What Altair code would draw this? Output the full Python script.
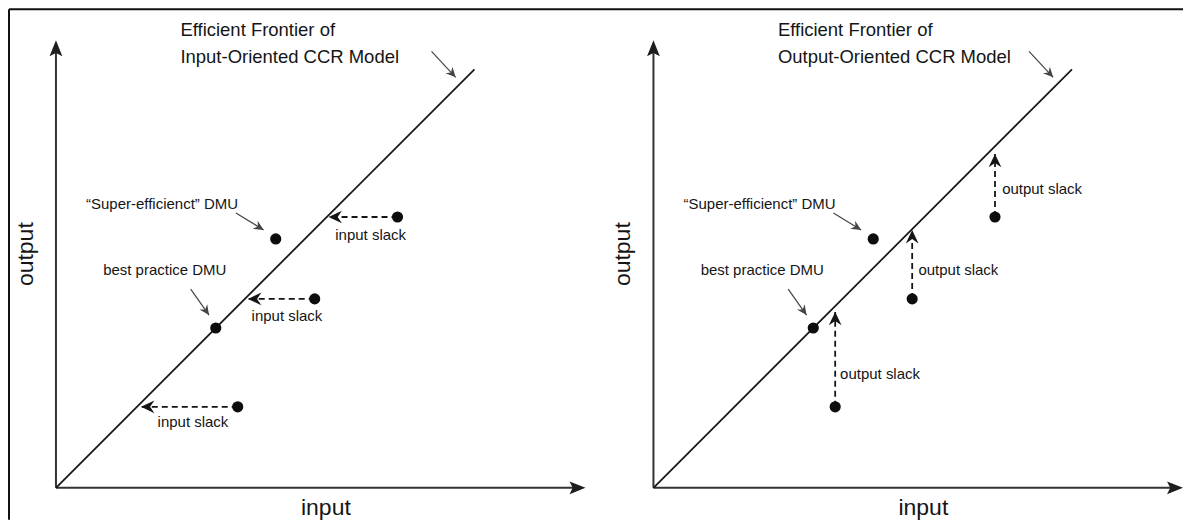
import math
import altair as alt
import pandas as pd

# ---------------- data (plot units: origin at the axes' corner) ----------------
X_MAX = 11.83
Y_MAX = 10.0
PANEL_W = 530
PANEL_H = 448

frontier_input = [0.0, 9.35]
frontier_output = [0.0, 9.35]

# DMUs: super-efficient, best practice, three inefficient ones
dmu_input = [4.91, 3.57, 7.63, 5.78, 4.06]
dmu_output = [5.56, 3.57, 6.05, 4.22, 1.81]

# inefficient DMUs and where their slack arrows end
slack_input = [7.63, 5.78, 4.06]
slack_output = [6.05, 4.22, 1.81]
input_target = [6.09, 4.29, 1.90]    # input-oriented: input reduced
output_target = [7.46, 5.76, 3.93]   # output-oriented: output raised

in_label_x = [7.03, 5.16, 3.06]
in_label_y = [5.65, 3.84, 1.47]
out_label_x = [7.79, 5.92, 4.17]
out_label_y = [6.68, 4.87, 2.54]

note_text = ["\u201cSuper-efficienct\u201d DMU", "best practice DMU"]
note_x = [2.37, 2.43]
note_y = [6.35, 4.86]

pointer_x1 = [4.02, 3.01, 8.39]
pointer_y1 = [6.14, 4.44, 9.75]
pointer_x2 = [4.64, 3.42, 8.93]
pointer_y2 = [5.76, 3.86, 9.17]

title_in = ["Efficient Frontier of", "Input-Oriented CCR Model"]
title_out = ["Efficient Frontier of", "Output-Oriented CCR Model"]
title_x = 2.78
title_y = [10.23, 9.63]

x_title = "input"
y_title = "output"
x_title_pos = (6.03, -0.45)
y_title_pos = (-0.67, 5.22)

# ---------------- style ----------------
INK = "#151515"
AXIS = "#333333"
POINTER = "#444444"
FONT = "Liberation Sans, Arial, sans-serif"
STEALTH = "M 0 0 L -2 -0.95 L -1.35 0 L -2 0.95 Z"
AXIS_HEAD = "M 0 0 L -2 -0.8 L -1.6 0 L -2 0.8 Z"

XS = alt.Scale(domain=[0, X_MAX], nice=False, zero=False)
YS = alt.Scale(domain=[0, Y_MAX], nice=False, zero=False)


def X(f="x"):
    return alt.X(f"{f}:Q", scale=XS, axis=None)


def Y(f="y"):
    return alt.Y(f"{f}:Q", scale=YS, axis=None)


def head_layer(df, size, color, shape=STEALTH):
    return alt.Chart(df).mark_point(
        shape=shape, filled=True, size=size, color=color, opacity=1, strokeWidth=0
    ).encode(x=X(), y=Y(), angle=alt.Angle("angle:Q", scale=None))


def panel(kind, with_frame=False):
    layers = []

    # axes (drawn as arrows)
    ax = pd.DataFrame({"x": [0.0, 0.0], "y": [0.0, 0.0],
                       "x2": [X_MAX - 0.25, 0.0], "y2": [0.0, Y_MAX - 0.25]})
    layers.append(alt.Chart(ax).mark_rule(color=AXIS, strokeWidth=2).encode(
        x=X(), y=Y(), x2="x2", y2="y2"))
    axh = pd.DataFrame({"x": [X_MAX, 0.0], "y": [0.0, Y_MAX], "angle": [0, 270]})
    layers.append(head_layer(axh, 256, "#1e1e1e", AXIS_HEAD))

    # efficient frontier
    fr = pd.DataFrame({"x": [frontier_input[0]], "y": [frontier_output[0]],
                       "x2": [frontier_input[1]], "y2": [frontier_output[1]]})
    layers.append(alt.Chart(fr).mark_rule(color=INK, strokeWidth=1.7).encode(
        x=X(), y=Y(), x2="x2", y2="y2"))

    # slack arrows
    if kind == "in":
        sl = pd.DataFrame({"x": slack_input, "y": slack_output,
                           "x2": input_target, "y2": slack_output})
        hd = pd.DataFrame({"x": input_target, "y": slack_output, "angle": [180] * 3})
        lab = pd.DataFrame({"x": in_label_x, "y": in_label_y, "t": ["input slack"] * 3})
        align = "center"
    else:
        sl = pd.DataFrame({"x": slack_input, "y": slack_output,
                           "x2": slack_input, "y2": output_target})
        hd = pd.DataFrame({"x": slack_input, "y": output_target, "angle": [270] * 3})
        lab = pd.DataFrame({"x": out_label_x, "y": out_label_y, "t": ["output slack"] * 3})
        align = "left"
    layers.append(alt.Chart(sl).mark_rule(color=INK, strokeWidth=1.8, strokeDash=[6, 4]).encode(
        x=X(), y=Y(), x2="x2", y2="y2"))
    layers.append(head_layer(hd, 180, INK))
    layers.append(alt.Chart(lab).mark_text(
        align=align, baseline="middle", font=FONT, fontSize=15, color=INK).encode(
        x=X(), y=Y(), text="t:N"))

    # DMU points
    dm = pd.DataFrame({"x": dmu_input, "y": dmu_output})
    layers.append(alt.Chart(dm).mark_circle(size=125, color="#0d0d0d", opacity=1).encode(
        x=X(), y=Y()))

    # notes
    nt = pd.DataFrame({"x": note_x, "y": note_y, "t": note_text})
    layers.append(alt.Chart(nt).mark_text(
        align="center", baseline="middle", font=FONT, fontSize=15, color=INK).encode(
        x=X(), y=Y(), text="t:N"))

    # pointer arrows
    ang = [math.degrees(math.atan2(-(pointer_y2[i] - pointer_y1[i]), pointer_x2[i] - pointer_x1[i])) % 360
           for i in range(3)]
    pt = pd.DataFrame({"x": pointer_x1, "y": pointer_y1, "x2": pointer_x2, "y2": pointer_y2})
    layers.append(alt.Chart(pt).mark_rule(color=POINTER, strokeWidth=1.2).encode(
        x=X(), y=Y(), x2="x2", y2="y2"))
    ph = pd.DataFrame({"x": pointer_x2, "y": pointer_y2, "angle": ang})
    layers.append(head_layer(ph, 100, POINTER))

    # frontier title
    tl = pd.DataFrame({"x": [title_x] * 2, "y": title_y,
                       "t": title_in if kind == "in" else title_out})
    layers.append(alt.Chart(tl).mark_text(
        align="left", baseline="middle", font=FONT, fontSize=18.5, color=INK).encode(
        x=X(), y=Y(), text="t:N"))

    # axis titles
    xt = pd.DataFrame({"x": [x_title_pos[0]], "y": [x_title_pos[1]], "t": [x_title]})
    layers.append(alt.Chart(xt).mark_text(
        align="center", baseline="middle", font=FONT, fontSize=23, color=INK).encode(
        x=X(), y=Y(), text="t:N"))
    yt = pd.DataFrame({"x": [y_title_pos[0]], "y": [y_title_pos[1]], "t": [y_title]})
    layers.append(alt.Chart(yt).mark_text(
        align="center", baseline="middle", font=FONT, fontSize=23, color=INK, angle=270).encode(
        x=X(), y=Y(), text="t:N"))

    # outer frame of the figure
    if with_frame:
        one = pd.DataFrame({"k": [0]})
        layers.append(alt.Chart(one).mark_rule(color="#111111", strokeWidth=2).encode(
            x=alt.value(-47), y=alt.value(-31), y2=alt.value(480)))
        layers.append(alt.Chart(one).mark_rule(color="#111111", strokeWidth=2).encode(
            x=alt.value(-47), x2=alt.value(1128), y=alt.value(-31)))

    return alt.layer(*layers).properties(width=PANEL_W, height=PANEL_H)


chart = alt.hconcat(
    panel("in", with_frame=True), panel("out"), spacing=68, bounds="flush"
).properties(padding=0).configure_view(stroke=None)

chart.save("out.html", embed_options={"renderer": "svg", "actions": False})
